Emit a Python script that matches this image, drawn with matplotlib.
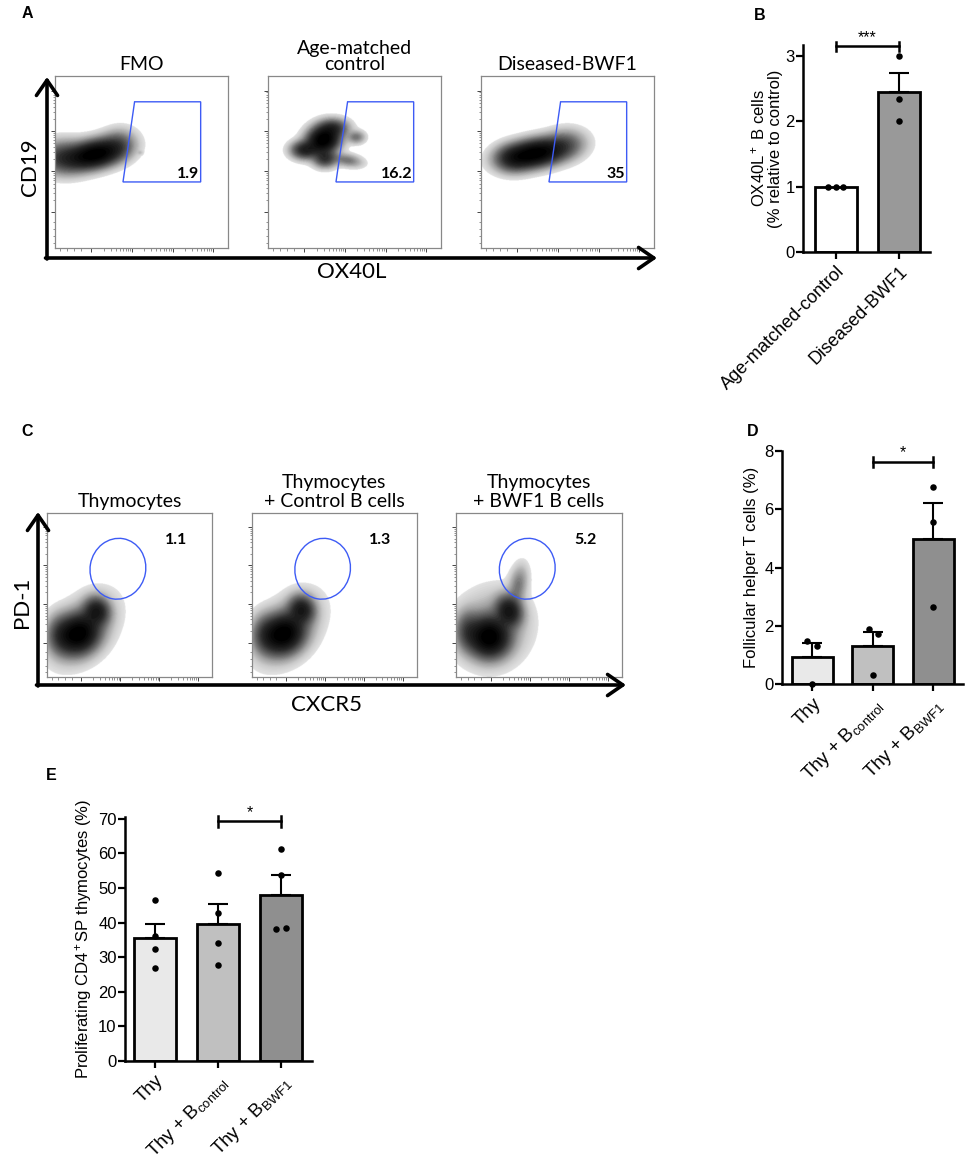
import numpy as np
import matplotlib
matplotlib.use('Agg')
import matplotlib.pyplot as plt
from matplotlib.colors import LinearSegmentedColormap
from matplotlib.patches import Polygon, Ellipse

plt.rcParams['font.family'] = ['Liberation Sans', 'DejaVu Sans']
plt.rcParams['mathtext.fontset'] = 'custom'
plt.rcParams['mathtext.rm'] = 'Liberation Sans'
plt.rcParams['mathtext.it'] = 'Liberation Sans:italic'
plt.rcParams['mathtext.bf'] = 'Liberation Sans:bold'

# ---------------- data ----------------
# Panel A: flow cytometry (CD19 vs OX40L)
a_titles = ['FMO', 'Age-matched\ncontrol', 'Diseased-BWF1']
a_gate_pct = ['1.9', '16.2', '35']
# density populations: (cx, cy, sx, sy, angle_deg, weight) in plot fraction
a_fmo = [(0.23, 0.545, 0.09, 0.045, 12, 1.0), (0.05, 0.525, 0.08, 0.055, 0, 0.35),
         (0.36, 0.60, 0.06, 0.05, 20, 0.2), (0.49, 0.555, 0.01, 0.008, 0, 0.03)]
a_ctrl = [(0.32, 0.63, 0.055, 0.045, 20, 1.0), (0.21, 0.57, 0.045, 0.03, 0, 0.45),
          (0.38, 0.70, 0.05, 0.03, 0, 0.3), (0.51, 0.645, 0.03, 0.022, 0, 0.15),
          (0.46, 0.51, 0.05, 0.022, -10, 0.15), (0.33, 0.52, 0.04, 0.03, 0, 0.35)]
a_bwf1 = [(0.31, 0.55, 0.10, 0.045, 10, 1.0), (0.48, 0.60, 0.07, 0.05, 10, 0.2),
          (0.18, 0.52, 0.06, 0.045, 0, 0.3)]
a_gate = [(0.46, 0.85), (0.842, 0.85), (0.842, 0.384), (0.393, 0.384)]

# Panel C: flow cytometry (PD-1 vs CXCR5)
c_titles = ['Thymocytes', 'Thymocytes\n+ Control B cells', 'Thymocytes\n+ BWF1 B cells']
c_gate_pct = ['1.1', '1.3', '5.2']
c_thy = [(0.19, 0.26, 0.075, 0.065, 40, 1.0), (0.30, 0.40, 0.045, 0.05, 20, 0.55),
         (0.22, 0.29, 0.14, 0.09, 50, 0.12), (0.08, 0.26, 0.05, 0.07, 0, 0.25)]
c_ctrl = [(0.19, 0.26, 0.075, 0.065, 40, 1.0), (0.30, 0.41, 0.045, 0.05, 20, 0.55),
          (0.22, 0.29, 0.14, 0.09, 50, 0.12), (0.08, 0.26, 0.05, 0.07, 0, 0.25)]
c_bwf1 = [(0.20, 0.24, 0.07, 0.07, 40, 1.0), (0.32, 0.40, 0.045, 0.055, 20, 0.6),
          (0.375, 0.56, 0.032, 0.07, -10, 0.15), (0.22, 0.30, 0.13, 0.12, 55, 0.12),
          (0.07, 0.28, 0.045, 0.07, 0, 0.25)]
c_gate_center = (0.43, 0.66)
c_gate_size = (0.336, 0.372)

# Panel B
b_groups = ['Age-matched-control', 'Diseased-BWF1']
b_points = [[1.0, 1.0, 1.0], [3.0, 2.34, 2.0]]
b_colors = ['#ffffff', '#999999']
b_sig = '***'

# Panel D
d_groups = ['Thy', r'Thy + $\mathrm{B}_{\mathrm{control}}$', r'Thy + $\mathrm{B}_{\mathrm{BWF1}}$']
d_points = [[1.48, 1.32, 0.0], [1.88, 1.70, 0.30], [6.75, 5.56, 2.65]]
d_colors = ['#e9e9e9', '#c0c0c0', '#8f8f8f']
d_sig = '*'

# Panel E
e_groups = ['Thy', r'Thy + $\mathrm{B}_{\mathrm{control}}$', r'Thy + $\mathrm{B}_{\mathrm{BWF1}}$']
e_points = [[46.5, 36.0, 32.3, 27.0], [54.2, 42.8, 34.2, 27.6], [61.2, 53.8, 38.0, 38.3]]
e_colors = ['#e9e9e9', '#c0c0c0', '#8f8f8f']
e_sig = '*'

# horizontal spread of overlapping dots (layout)
b_jitter = [[-0.12, 0.0, 0.12], [0.0, 0.0, 0.0]]
d_jitter = [[-0.08, 0.08, 0.0], [-0.07, 0.08, 0.0], [0.0, 0.0, 0.0]]
e_jitter = [[0, 0, 0, 0], [0, 0, 0, 0], [0, 0, -0.08, 0.07]]

# ---------------- figure ----------------
W, H = 971, 1164
fig = plt.figure(figsize=(W / 100, H / 100), dpi=100)


def ax_px(x0, y0, x1, y1, **kw):
    return fig.add_axes([x0 / W, 1 - y1 / H, (x1 - x0) / W, (y1 - y0) / H], **kw)


flow_cmap = LinearSegmentedColormap.from_list(
    'flow', ['#e2e2e2', '#cacaca', '#a0a0a0', '#646464', '#282828', '#000000'])
decades = [0.21, 0.445, 0.68, 0.915]
minor = []
for d in decades[:-1]:
    for k in range(2, 10):
        minor.append(d + np.log10(k) * 0.235)
minor += [0.03, 0.07, 0.11, 0.15]


def draw_flow(ax, blobs, title, title_ls, title_size):
    n = 400
    g = np.linspace(0, 1, n)
    X, Y = np.meshgrid(g, g)
    Z = np.zeros_like(X)
    for cx, cy, sx, sy, ang, w in blobs:
        t = np.deg2rad(ang)
        u = (X - cx) * np.cos(t) + (Y - cy) * np.sin(t)
        v = -(X - cx) * np.sin(t) + (Y - cy) * np.cos(t)
        Z += w * np.exp(-0.5 * ((u / sx) ** 2 + (v / sy) ** 2))
    Z /= Z.max()
    lo, hi = 0.009, 0.88
    T = np.clip(np.log(np.maximum(Z, 1e-9) / lo) / np.log(hi / lo), 0, 1) ** 1.25
    T = np.round(T * 28) / 28
    rgb = flow_cmap(T)[..., :3]
    rgb[Z < lo] = 1.0
    ax.imshow(rgb, extent=[0, 1, 0, 1], origin='lower', interpolation='antialiased',
              aspect='auto')
    ax.set_xlim(0, 1)
    ax.set_ylim(0, 1)
    for s in ax.spines.values():
        s.set_color('#888888')
        s.set_linewidth(0.9)
    ax.set_xticks(decades)
    ax.set_yticks(decades)
    ax.set_xticks(minor, minor=True)
    ax.set_yticks(minor, minor=True)
    ax.tick_params(which='major', direction='out', length=3, width=0.7, color='#444444',
                   labelbottom=False, labelleft=False)
    ax.tick_params(which='minor', direction='out', length=1.8, width=0.5, color='#666666')
    ax.set_title(title, family='Lato', fontsize=title_size, pad=4, linespacing=title_ls)


a_boxes = [(55, 228), (268, 441), (481, 654)]
for (x0, x1), blobs, t, p in zip(a_boxes, [a_fmo, a_ctrl, a_bwf1], a_titles, a_gate_pct):
    ax = ax_px(x0, 76, x1, 248)
    draw_flow(ax, blobs, t, 0.95, 14)
    ax.add_patch(Polygon(a_gate, closed=True, fill=False, edgecolor='#3d5bf5', lw=1.0))
    ax.text(0.835, 0.43, p, family='Lato', weight='bold', fontsize=11.5, ha='right', va='center')

c_boxes = [(46.7, 212.3), (251.7, 416.7), (456, 621.7)]
for (x0, x1), blobs, t, p in zip(c_boxes, [c_thy, c_ctrl, c_bwf1], c_titles, c_gate_pct):
    ax = ax_px(x0, 513, x1, 677)
    draw_flow(ax, blobs, t, 1.2, 14)
    ax.add_patch(Ellipse(c_gate_center, c_gate_size[0], c_gate_size[1], angle=-10,
                         fill=False, edgecolor='#3d5bf5', lw=1.0))
    ax.text(0.78, 0.835, p, family='Lato', weight='bold', fontsize=11.5, ha='center', va='center')


def bar_panel(ax, groups, points, jitter, colors, widths, ylim, yticks, xlim, sig, sig_y,
              sig_pair, ylabel, labelpad, xlabsize):
    for i, pts in enumerate(points):
        pts = np.asarray(pts, float)
        m = pts.mean()
        sem = pts.std(ddof=1) / np.sqrt(len(pts))
        ax.bar(i, m, width=widths[i], color=colors[i], edgecolor='black', linewidth=2.0, zorder=2)
        if sem > 0:
            ax.errorbar(i, m, yerr=[[0], [sem]], fmt='none', ecolor='black', elinewidth=1.5,
                        capsize=7.5, capthick=1.5, zorder=3)
        ax.scatter(i + np.asarray(jitter[i]), pts, s=22, color='black', zorder=5,
                   clip_on=False, linewidths=0)
    ax.set_xlim(*xlim)
    ax.set_ylim(*ylim)
    ax.set_yticks(yticks)
    ax.set_xticks(range(len(groups)))
    ax.set_xticklabels(groups, rotation=45, ha='right', rotation_mode='anchor', fontsize=xlabsize)
    ax.tick_params(axis='y', labelsize=12, length=5, width=1.6, pad=1)
    ax.tick_params(axis='x', length=5, width=1.6, pad=3)
    for s in ['top', 'right']:
        ax.spines[s].set_visible(False)
    for s in ['left', 'bottom']:
        ax.spines[s].set_linewidth(1.8)
    ax.set_ylabel(ylabel, fontsize=12, labelpad=labelpad, linespacing=1.05)
    a, b = sig_pair
    cap = (ylim[1] - ylim[0]) * 0.022
    ax.plot([a, b], [sig_y, sig_y], color='black', lw=1.8, clip_on=False)
    ax.plot([a, a], [sig_y - cap, sig_y + cap], color='black', lw=1.8, clip_on=False)
    ax.plot([b, b], [sig_y - cap, sig_y + cap], color='black', lw=1.8, clip_on=False)
    ax.text((a + b) / 2, sig_y + cap * 0.3, sig, ha='center', va='bottom', fontsize=11.5)


axB = ax_px(803, 45, 930, 252)
bar_panel(axB, b_groups, b_points, b_jitter, b_colors, [0.67, 0.67], (0, 3.17), [0, 1, 2, 3],
          (-0.52, 1.49), b_sig, 3.15, (0, 1),
          'OX40L$^+$ B cells\n(% relative to control)', 2, 13)

axD = ax_px(782, 451, 963, 684)
bar_panel(axD, d_groups, d_points, d_jitter, d_colors, [0.68, 0.68, 0.68], (0, 8),
          [0, 2, 4, 6, 8], (-0.5, 2.49), d_sig, 7.63, (1, 2),
          'Follicular helper T cells (%)', 4, 13.5)

axE = ax_px(125, 817, 312, 1061)
bar_panel(axE, e_groups, e_points, e_jitter, e_colors, [0.67, 0.67, 0.67], (0, 70.5),
          list(range(0, 71, 10)), (-0.476, 2.49), e_sig, 69.2, (1, 2),
          'Proliferating CD4$^+$SP thymocytes (%)', 3, 13.5)

# ---------------- overlay: big axis arrows, labels, panel letters ----------------
ov = fig.add_axes([0, 0, 1, 1], zorder=10)
ov.set_xlim(0, W)
ov.set_ylim(H, 0)
ov.axis('off')
ov.patch.set_alpha(0)

arrow_kw = dict(arrowstyle='->,head_length=0.55,head_width=0.38', lw=2.6, color='black',
                shrinkA=0, shrinkB=0, mutation_scale=20)
ov.annotate('', xy=(47, 77), xytext=(47, 259), arrowprops=arrow_kw)
ov.annotate('', xy=(657, 258), xytext=(45.5, 258), arrowprops=arrow_kw)
ov.annotate('', xy=(38, 512), xytext=(38, 686), arrowprops=arrow_kw)
ov.annotate('', xy=(626, 685), xytext=(36.5, 685), arrowprops=arrow_kw)

ov.text(30, 167, 'CD19', family='Lato', fontsize=16, rotation=90, ha='center', va='center')
ov.text(352, 272, 'OX40L', family='Lato', fontsize=16, ha='center', va='center')
ov.text(22, 602, 'PD-1', family='Lato', fontsize=16, rotation=90, ha='center', va='center')
ov.text(327, 705, 'CXCR5', family='Lato', fontsize=16, ha='center', va='center')

for lab, (x, y) in zip('ABCDE', [(27.5, 14), (760, 15), (27.5, 431), (753, 431), (51, 775)]):
    ov.text(x, y, lab, fontsize=11.5, weight='bold', ha='center', va='center')

fig.savefig('out.png', dpi=100, facecolor='white')
